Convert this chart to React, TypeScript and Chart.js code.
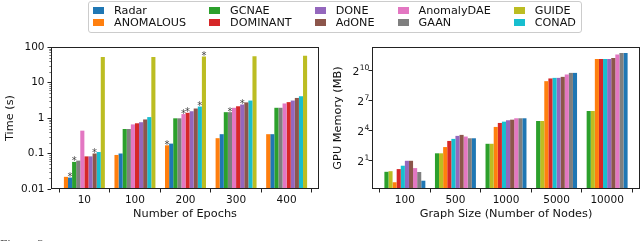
import React, { useEffect, useRef } from 'react';
import { Chart, registerables } from 'chart.js';

Chart.register(...registerables);

const FONT = "'DejaVu Sans', sans-serif";

// ---------- categories ----------
const epochCategories = ['10', '100', '200', '300', '400'];
const sizeCategories = ['100', '500', '1000', '5000', '10000'];

// ---------- colours ----------
const COLORS: Record<string, string> = {
  Radar: '#1f77b4',
  ANOMALOUS: '#ff7f0e',
  GCNAE: '#2ca02c',
  DOMINANT: '#d62728',
  DONE: '#9467bd',
  AdONE: '#8c564b',
  AnomalyDAE: '#e377c2',
  GAAN: '#7f7f7f',
  GUIDE: '#bcbd22',
  CONAD: '#17becf',
};

// ---------- legend (columns) ----------
const legendColumns = [
  ['Radar', 'ANOMALOUS'],
  ['GCNAE', 'DOMINANT'],
  ['DONE', 'AdONE'],
  ['AnomalyDAE', 'GAAN'],
  ['GUIDE', 'CONAD'],
];

// ---------- left panel: Time (s) vs Number of Epochs ----------
const timeOrder = ['ANOMALOUS', 'Radar', 'GCNAE', 'GAAN', 'AnomalyDAE', 'DOMINANT', 'DONE', 'AdONE', 'CONAD', 'GUIDE'];
const timeANOMALOUS = [0.022, 0.091, 0.17, 0.27, 0.35];
const timeRadar = [0.021, 0.1, 0.19, 0.35, 0.35];
const timeGCNAE = [0.058, 0.49, 0.98, 1.46, 1.94];
const timeGAAN = [0.063, 0.49, 0.98, 1.46, 1.94];
const timeAnomalyDAE = [0.44, 0.66, 1.29, 1.94, 2.57];
const timeDOMINANT = [0.083, 0.71, 1.4, 2.14, 2.8];
const timeDONE = [0.083, 0.76, 1.55, 2.4, 3.1];
const timeAdONE = [0.1, 0.91, 1.85, 2.75, 3.67];
const timeCONAD = [0.11, 1.06, 2.1, 3.1, 4.1];
const timeGUIDE = [52, 52, 54, 55, 57];
const timeSeries: Record<string, number[]> = {
  ANOMALOUS: timeANOMALOUS, Radar: timeRadar, GCNAE: timeGCNAE, GAAN: timeGAAN,
  AnomalyDAE: timeAnomalyDAE, DOMINANT: timeDOMINANT, DONE: timeDONE, AdONE: timeAdONE,
  CONAD: timeCONAD, GUIDE: timeGUIDE,
};
const timeStarred: [string, string][] = [
  ['Radar', '10'], ['GCNAE', '10'], ['AdONE', '10'],
  ['ANOMALOUS', '200'], ['AnomalyDAE', '200'], ['DOMINANT', '200'], ['CONAD', '200'], ['GUIDE', '200'],
  ['GAAN', '300'], ['DONE', '300'],
];
const timeTickValues = [0.01, 0.1, 1, 10, 100];
const timeTickLabels = ['0.01', '0.1', '1', '10', '100'];

// ---------- right panel: GPU Memory (MB) vs Graph Size ----------
const memOrder = ['GCNAE', 'GUIDE', 'ANOMALOUS', 'DOMINANT', 'CONAD', 'DONE', 'AdONE', 'AnomalyDAE', 'GAAN', 'Radar'];
const memGCNAE = [0.91, 3.3, 6.4, 31.3, 62.7];
const memGUIDE = [0.95, 3.3, 6.4, 31.3, 62.7];
const memANOMALOUS = [0.44, 5.1, 20.7, 501, 2353];
const memDOMINANT = [1.1, 7.8, 27.3, 605, 2353];
const memCONAD = [1.39, 9.0, 29.9, 630, 2353];
const memDONE = [1.96, 11.1, 32.9, 630, 2353];
const memAdONE = [1.96, 11.9, 34.3, 676, 2521];
const memAnomalyDAE = [1.18, 10.6, 37.8, 798, 3191];
const memGAAN = [0.9, 9.4, 37.8, 891, 3566];
const memRadar = [0.49, 9.4, 37.8, 891, 3566];
const memSeries: Record<string, number[]> = {
  GCNAE: memGCNAE, GUIDE: memGUIDE, ANOMALOUS: memANOMALOUS, DOMINANT: memDOMINANT,
  CONAD: memCONAD, DONE: memDONE, AdONE: memAdONE, AnomalyDAE: memAnomalyDAE,
  GAAN: memGAAN, Radar: memRadar,
};
const memTickValues = [2, 16, 128, 1024];
const memTickBase = '2';
const memTickExponents = ['1', '4', '7', '10'];

// ---------- plugins ----------
function framePlugin(minorTicks: number[] | null) {
  return {
    id: 'frame',
    afterDraw(chart: any) {
      const { ctx, chartArea: a } = chart;
      ctx.save();
      ctx.strokeStyle = '#222';
      ctx.lineWidth = 1;
      const l = Math.round(a.left) + 0.5;
      const t = Math.round(a.top) + 0.5;
      const r = Math.round(a.right) - 0.5;
      const b = Math.round(a.bottom) - 0.5;
      ctx.strokeRect(l, t, r - l, b - t);
      if (minorTicks) {
        const y = chart.scales.y;
        ctx.lineWidth = 0.6;
        ctx.beginPath();
        for (const v of minorTicks) {
          const py = Math.round(y.getPixelForValue(v)) + 0.5;
          ctx.moveTo(l, py);
          ctx.lineTo(l - 2.2, py);
        }
        ctx.stroke();
      }
      ctx.restore();
    },
  };
}

// draws power-of-two tick labels with a raised, smaller exponent
function powerLabelPlugin(values: number[], base: string, exps: string[], rightX: number) {
  return {
    id: 'powerLabels',
    afterDraw(chart: any) {
      const { ctx } = chart;
      const y = chart.scales.y;
      ctx.save();
      ctx.fillStyle = '#111';
      ctx.textBaseline = 'alphabetic';
      ctx.textAlign = 'left';
      values.forEach((v, i) => {
        const py = y.getPixelForValue(v);
        ctx.font = `7.6px ${FONT}`;
        const ew = ctx.measureText(exps[i]).width;
        ctx.font = `10.8px ${FONT}`;
        const bw = ctx.measureText(base).width;
        const x0 = rightX - ew - bw;
        ctx.fillText(base, x0, py + 4.2);
        ctx.font = `7.6px ${FONT}`;
        ctx.fillText(exps[i], x0 + bw + 0.3, py - 0.4);
      });
      ctx.restore();
    },
  };
}

function starPlugin(stars: [string, string][], categories: string[]) {
  return {
    id: 'stars',
    afterDatasetsDraw(chart: any) {
      const ctx = chart.ctx;
      ctx.save();
      ctx.fillStyle = '#444';
      ctx.font = `10px ${FONT}`;
      ctx.textAlign = 'center';
      ctx.textBaseline = 'alphabetic';
      stars.forEach(([method, cat]) => {
        const di = chart.data.datasets.findIndex((d: any) => d.label === method);
        const idx = categories.indexOf(cat);
        if (di < 0 || idx < 0) return;
        const el = chart.getDatasetMeta(di).data[idx];
        if (!el) return;
        ctx.fillText('*', el.x, el.y + 2.5);
      });
      ctx.restore();
    },
  };
}

const minorTimeTicks: number[] = [];
for (let e = -2; e < 2; e++) {
  for (let k = 2; k <= 9; k++) minorTimeTicks.push(k * Math.pow(10, e));
}

function buildConfig(p: {
  order: string[];
  series: Record<string, number[]>;
  categories: string[];
  xMin: number;
  xMax: number;
  xTitle: string;
  yTitle: string;
  yMin: number;
  yMax: number;
  yTicks: number[];
  yLabels: string[] | null;
  yWidth: number;
  yTitlePad: number;
  yTickPad: number;
  padRight: number;
  plugins: any[];
}): any {
  return {
    type: 'bar',
    data: {
      datasets: p.order.map((m) => ({
        label: m,
        data: p.series[m].map((v, i) => ({ x: i, y: v })),
        backgroundColor: COLORS[m],
        borderWidth: 0,
        categoryPercentage: 0.81,
        barPercentage: 1,
      })),
    },
    options: {
      animation: false,
      responsive: true,
      maintainAspectRatio: false,
      layout: { padding: { top: 47, right: p.padRight, bottom: 0, left: 0 } },
      plugins: { legend: { display: false }, tooltip: { enabled: false } },
      scales: {
        x: {
          type: 'linear',
          min: p.xMin,
          max: p.xMax,
          offset: false,
          afterBuildTicks: (s: any) => {
            s.ticks = p.categories.map((_, i) => ({ value: i }));
          },
          afterFit: (s: any) => {
            s.height = 52;
          },
          ticks: {
            callback: (v: any) => p.categories[v],
            font: { family: FONT, size: 10.5 },
            color: '#111',
            padding: 1,
            maxRotation: 0,
            autoSkip: false,
          },
          grid: { drawOnChartArea: false, drawTicks: true, tickLength: 3.5, color: '#222', lineWidth: 1 },
          border: { display: false },
          title: {
            display: true,
            text: p.xTitle,
            font: { family: FONT, size: 11.3 },
            color: '#111',
            padding: { top: 0, bottom: 20.3 },
          },
        },
        y: {
          type: 'logarithmic',
          min: p.yMin,
          max: p.yMax,
          afterBuildTicks: (s: any) => {
            s.ticks = p.yTicks.map((v) => ({ value: v }));
          },
          afterFit: (s: any) => {
            s.width = p.yWidth;
          },
          ticks: {
            callback: (v: any) => {
              if (!p.yLabels) return '';
              const i = p.yTicks.indexOf(v);
              return i >= 0 ? p.yLabels[i] : '';
            },
            font: { family: FONT, size: 10.5 },
            color: '#111',
            padding: p.yTickPad,
            autoSkip: false,
          },
          grid: { drawOnChartArea: false, drawTicks: true, tickLength: 3.5, color: '#222', lineWidth: 1 },
          border: { display: false },
          title: {
            display: true,
            text: p.yTitle,
            font: { family: FONT, size: 11.3 },
            color: '#111',
            padding: { top: p.yTitlePad, bottom: 0 },
          },
        },
      },
    },
    plugins: p.plugins,
  };
}

function ChartBox({ left, width, build }: { left: number; width: number; build: () => any }) {
  const ref = useRef<HTMLCanvasElement>(null);
  useEffect(() => {
    const chart = new Chart(ref.current as HTMLCanvasElement, build());
    return () => chart.destroy();
  }, []);
  return (
    <div style={{ position: 'absolute', left, top: 0, width, height: 241 }}>
      <canvas ref={ref} style={{ display: 'block' }} />
    </div>
  );
}

function Legend() {
  return (
    <div
      style={{
        position: 'absolute',
        left: 88,
        top: 1,
        border: '1px solid #cccccc',
        borderRadius: 3,
        background: 'rgba(255,255,255,0.8)',
        padding: '3px 5px 4px 4px',
        display: 'flex',
        fontFamily: FONT,
        fontSize: 11.2,
        lineHeight: '11.5px',
        color: '#111',
        zIndex: 2,
      }}
    >
      {legendColumns.map((col, ci) => (
        <div key={ci} style={{ display: 'flex', flexDirection: 'column', marginRight: ci < legendColumns.length - 1 ? 23 : 0 }}>
          {col.map((name) => (
            <div key={name} style={{ display: 'flex', alignItems: 'center', height: 11.5, whiteSpace: 'nowrap' }}>
              <span style={{ display: 'inline-block', width: 11, height: 7, background: COLORS[name], marginRight: 10 }} />
              <span>{name}</span>
            </div>
          ))}
        </div>
      ))}
    </div>
  );
}

export default function App() {
  return (
    <div style={{ position: 'absolute', left: 0, top: 0, width: 640, height: 241, overflow: 'hidden', background: '#fff' }}>
      <ChartBox
        left={0}
        width={320}
        build={() =>
          buildConfig({
            order: timeOrder,
            series: timeSeries,
            categories: epochCategories,
            xMin: -0.66,
            xMax: 4.64,
            xTitle: 'Number of Epochs',
            yTitle: 'Time (s)',
            yMin: 0.01,
            yMax: 100,
            yTicks: timeTickValues,
            yLabels: timeTickLabels,
            yWidth: 51,
            yTitlePad: 3.4,
            yTickPad: 3,
            padRight: 1,
            plugins: [framePlugin(minorTimeTicks), starPlugin(timeStarred, epochCategories)],
          })
        }
      />
      <ChartBox
        left={320}
        width={320}
        build={() =>
          buildConfig({
            order: memOrder,
            series: memSeries,
            categories: sizeCategories,
            xMin: -0.65,
            xMax: 4.65,
            xTitle: 'Graph Size (Number of Nodes)',
            yTitle: 'GPU Memory (MB)',
            yMin: 0.275,
            yMax: 5404,
            yTicks: memTickValues,
            yLabels: null,
            yWidth: 52,
            yTitlePad: 11,
            yTickPad: 0.5,
            padRight: 0,
            plugins: [framePlugin(null), powerLabelPlugin(memTickValues, memTickBase, memTickExponents, 49)],
          })
        }
      />
      <Legend />
      <div
        style={{
          position: 'absolute',
          left: 0,
          top: 235.5,
          fontFamily: "'Liberation Serif', serif",
          fontSize: 13,
          color: '#444',
          whiteSpace: 'nowrap',
        }}
      >
        Figure 3:
      </div>
    </div>
  );
}
